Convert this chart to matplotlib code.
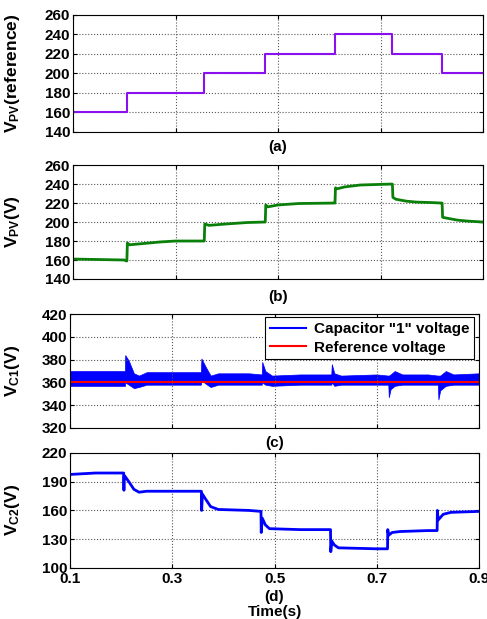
import numpy as np
import matplotlib
matplotlib.use('Agg')
import matplotlib.pyplot as plt
from matplotlib.lines import Line2D

plt.rcParams['font.family'] = ['Liberation Sans', 'DejaVu Sans']
plt.rcParams['font.weight'] = 'bold'
plt.rcParams['font.size'] = 11
plt.rcParams['mathtext.fontset'] = 'custom'
plt.rcParams['mathtext.rm'] = 'Liberation Sans:bold'
plt.rcParams['mathtext.bf'] = 'Liberation Sans:bold'
plt.rcParams['mathtext.it'] = 'Liberation Sans:bold'

# (a) tension PV de referencia (escalones)
t_ref = [0.1, 0.205, 0.356, 0.475, 0.611, 0.723, 0.82, 0.9]
v_ref = [160, 180, 200, 220, 240, 220, 200, 200]

# (b) tension PV medida
t_pv = [0.1, 0.15, 0.2, 0.204, 0.205, 0.206, 0.21, 0.23, 0.27, 0.3, 0.355,
        0.356, 0.357, 0.365, 0.4, 0.44, 0.474,
        0.475, 0.476, 0.48, 0.5, 0.54, 0.61,
        0.611, 0.612, 0.615, 0.63, 0.66, 0.72,
        0.723, 0.724, 0.73, 0.75, 0.77, 0.8, 0.819,
        0.82, 0.821, 0.83, 0.85, 0.87, 0.9]
v_pv = [161, 160.5, 160, 159, 159, 178, 176, 177, 179, 180, 180,
        180, 198, 196.5, 198, 199.5, 200,
        200, 218, 216, 218, 219.5, 220,
        220, 236, 235, 237, 239, 240,
        240, 226, 224, 222, 221, 220.5, 220,
        220, 205, 204, 202, 201, 200]

# (c) tension del condensador 1 (envolvente superior / inferior)
t_c1 = [0.1, 0.2075, 0.208, 0.215, 0.225, 0.235, 0.25, 0.3, 0.356,
        0.357, 0.365, 0.375, 0.39, 0.45, 0.475, 0.476, 0.482, 0.495,
        0.55, 0.611, 0.612, 0.617, 0.63, 0.7, 0.7225, 0.7235, 0.727,
        0.735, 0.75, 0.8, 0.8195, 0.8205, 0.824, 0.835, 0.85, 0.9]
c1_up = [370, 370, 384, 379, 368, 366, 369, 369, 369,
         381, 374, 366, 368, 368, 367, 378, 370, 366,
         367, 367, 376, 368, 366, 367, 366, 366, 367,
         370, 367, 367, 366, 366, 366, 370, 367, 368]
c1_lo = [357, 357, 360, 358, 355, 356, 358, 358, 358,
         362, 359, 356, 358, 358, 358, 360, 358, 357,
         358, 358, 360, 357, 358, 358, 358, 347, 354,
         357, 358, 358, 358, 345, 353, 357, 358, 358]
t_c1_ref = [0.1, 0.9]
v_c1_ref = [360, 360]

# (d) tension del condensador 2
t_c2 = [0.1, 0.15, 0.205, 0.2055, 0.206, 0.207, 0.215, 0.225, 0.235, 0.25, 0.3,
        0.357, 0.3575, 0.359, 0.365, 0.375, 0.39, 0.45,
        0.4735, 0.474, 0.476, 0.482, 0.49, 0.55,
        0.6095, 0.61, 0.612, 0.617, 0.625, 0.7,
        0.721, 0.7215, 0.723, 0.73, 0.745, 0.8,
        0.818, 0.8185, 0.82, 0.83, 0.845, 0.9]
v_c2 = [197.5, 199, 199, 181, 196, 196, 190, 182, 179, 180, 180,
        180, 160, 177, 172, 164, 161, 160,
        159, 137, 152, 145, 141, 140,
        140, 117, 128, 124, 121, 120,
        120, 140, 134, 137, 138, 139,
        139, 160, 150, 156, 158, 159]

x_ticks = [0.1, 0.3, 0.5, 0.7, 0.9]

fig = plt.figure(figsize=(4.87, 6.19), dpi=100)
ax_a = fig.add_axes([0.150, 0.7868, 0.842, 0.189])
ax_b = fig.add_axes([0.150, 0.5493, 0.842, 0.184])
ax_c = fig.add_axes([0.1437, 0.3086, 0.840, 0.184])
ax_d = fig.add_axes([0.1437, 0.0824, 0.840, 0.186])


def estilo(ax, yticks):
    ax.set_xlim(0.1, 0.9)
    ax.set_ylim(yticks[0], yticks[-1])
    ax.set_xticks(x_ticks)
    ax.set_yticks(yticks)
    ax.tick_params(direction='in', top=True, right=True, length=3,
                   width=0.8, labelsize=11, pad=2)
    ax.grid(True, linestyle=':', color='0.35', linewidth=0.8)
    for s in ax.spines.values():
        s.set_linewidth(0.8)
        s.set_color('black')
    ax.yaxis.set_label_coords(-0.125, 0.5)


# (a)
ax_a.plot(t_ref, v_ref, drawstyle='steps-post', color='#8a10f0', linewidth=1.5)
estilo(ax_a, [140, 160, 180, 200, 220, 240, 260])
ax_a.set_xticklabels([])
ax_a.set_ylabel(r'$\mathbf{V_{PV}}$(reference)', fontsize=12.5, fontweight='bold')
ax_a.text(0.5, -0.125, '(a)', transform=ax_a.transAxes, ha='center', va='center')

# (b)
ax_b.plot(t_pv, v_pv, color='#0a800a', linewidth=2)
estilo(ax_b, [140, 160, 180, 200, 220, 240, 260])
ax_b.set_xticklabels([])
ax_b.set_ylabel(r'$\mathbf{V_{PV}}$(V)', fontsize=12.5, fontweight='bold')
ax_b.text(0.5, -0.16, '(b)', transform=ax_b.transAxes, ha='center', va='center')

# (c)
ax_c.fill_between(t_c1, c1_lo, c1_up, color='#0000ff', linewidth=0.5,
                  edgecolor='#0000ff')
ax_c.plot(t_c1_ref, v_c1_ref, color='#ff0000', linewidth=1.5)
estilo(ax_c, [320, 340, 360, 380, 400, 420])
ax_c.set_xticklabels([])
ax_c.set_ylabel(r'$\mathbf{V_{C1}}$(V)', fontsize=12.5, fontweight='bold')
ax_c.yaxis.set_label_coords(-0.118, 0.5)
ax_c.text(0.5, -0.13, '(c)', transform=ax_c.transAxes, ha='center', va='center')
handles = [Line2D([], [], color='#0000ff', linewidth=1.5),
           Line2D([], [], color='#ff0000', linewidth=1.5)]
leg = ax_c.legend(handles, ['Capacitor "1" voltage', 'Reference voltage'],
                  loc='upper right', bbox_to_anchor=(0.988, 0.97),
                  fancybox=False, framealpha=1, edgecolor='black',
                  handlelength=2.4, borderpad=0.3, labelspacing=0.3,
                  handletextpad=0.5, borderaxespad=0.0,
                  prop={'weight': 'bold', 'size': 11})
leg.get_frame().set_linewidth(0.8)

# (d)
ax_d.plot(t_c2, v_c2, color='#0000ff', linewidth=2)
estilo(ax_d, [100, 130, 160, 190, 220])
ax_d.set_xticklabels(['0.1', '0.3', '0.5', '0.7', '0.9'])
ax_d.tick_params(axis='x', pad=3)
ax_d.set_ylabel(r'$\mathbf{V_{C2}}$(V)', fontsize=12.5, fontweight='bold')
ax_d.yaxis.set_label_coords(-0.118, 0.5)
ax_d.text(0.5, -0.25, '(d)', transform=ax_d.transAxes, ha='center', va='center')
ax_d.text(0.5, -0.385, 'Time(s)', transform=ax_d.transAxes, ha='center', va='center')

fig.savefig('out.png', dpi=100)
